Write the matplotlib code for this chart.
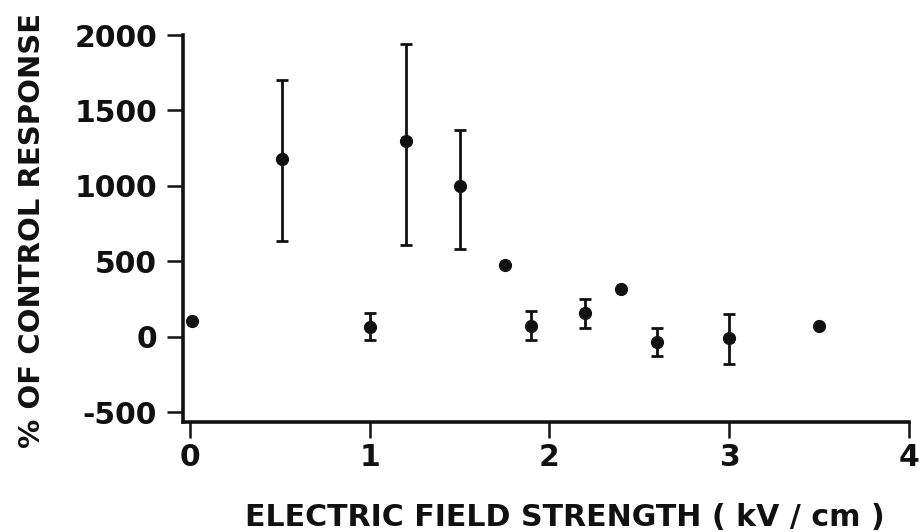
import matplotlib
matplotlib.use("Agg")
import matplotlib.pyplot as plt
import numpy as np

# Points with error bars
x_err = [0.51, 1.0, 1.2, 1.5, 1.9, 2.2, 2.6, 3.0]
y_err = [1180, 66, 1297, 996, 73, 155, -38, -9]
y_upper = [1704, 155, 1943, 1368, 168, 248, 55, 151]
y_lower = [637, -20, 609, 582, -20, 55, -128, -184]

# Points without error bars
x_pts = [0.01, 1.75, 2.4, 3.5]
y_pts = [106, 478, 319, 73]

xticks = [0, 1, 2, 3, 4]
yticks = [-500, 0, 500, 1000, 1500, 2000]

plt.rcParams['font.family'] = ['DejaVu Sans']
ink = '#111111'

fig = plt.figure(figsize=(9.22, 5.32), dpi=100)
W, H = 922, 532
left, right, top, bottom = 182.7, 909, 35, 421.7
ax = fig.add_axes([left / W, 1 - bottom / H, (right - left) / W, (bottom - top) / H])

ye = np.array(y_err)
yerr = np.vstack([ye - np.array(y_lower), np.array(y_upper) - ye])
ax.errorbar(x_err, y_err, yerr=yerr, fmt='o', color=ink, markersize=8.5,
            elinewidth=2.0, capsize=4.5, capthick=2.0, zorder=3)
ax.plot(x_pts, y_pts, 'o', color=ink, markersize=8.5, zorder=3)

ax.set_xlim(-0.04, 4.0)
ax.set_ylim(-564, 2000)
ax.set_xticks(xticks)
ax.set_yticks(yticks)
ax.set_xticklabels([str(v) for v in xticks], fontweight='bold')
ax.set_yticklabels([str(v) for v in yticks], fontweight='bold')

for s in ['top', 'right']:
    ax.spines[s].set_visible(False)
for s in ['left', 'bottom']:
    ax.spines[s].set_linewidth(2.6)
    ax.spines[s].set_color(ink)
ax.spines['left'].set_bounds(-564, 2000)

ax.tick_params(axis='y', direction='out', length=11.5, width=1.8, pad=7,
               labelsize=21.5, colors=ink)
ax.tick_params(axis='x', direction='out', length=11.5, width=1.8, pad=4,
               labelsize=21.5, colors=ink)

fig.text(40 / W, 1 - 230 / H, '% OF CONTROL RESPONSE', rotation=90,
         rotation_mode='anchor', ha='center', va='baseline', fontsize=21,
         fontweight='bold', color=ink)
fig.text(565 / W, 1 - 526 / H, 'ELECTRIC FIELD STRENGTH ( kV / cm )',
         ha='center', va='baseline', fontsize=21.6, fontweight='bold', color=ink)

fig.savefig('out.png', dpi=100, facecolor='white')
